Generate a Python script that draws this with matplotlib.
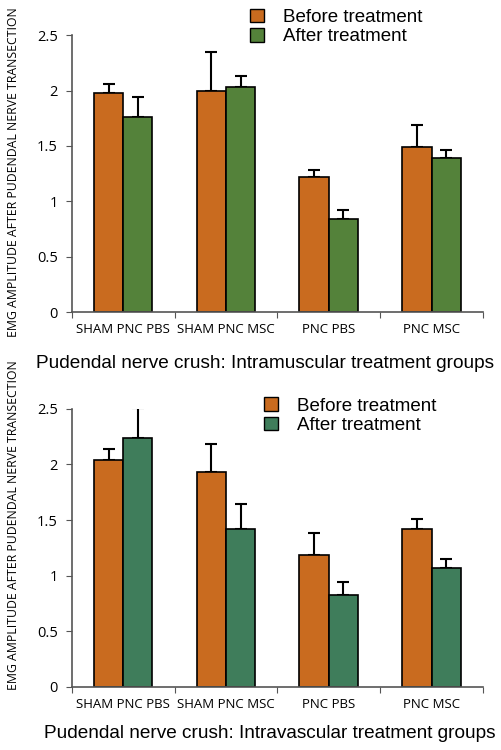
import numpy as np
import matplotlib
matplotlib.use('Agg')
from matplotlib import pyplot as plt

# group names shared by both panels
groups = ["SHAM PNC PBS", "SHAM PNC MSC", "PNC PBS", "PNC MSC"]

# top panel: intramuscular treatment
im_before = [1.98, 2.00, 1.22, 1.49]
im_before_top = [2.06, 2.35, 1.28, 1.69]
im_after = [1.76, 2.03, 0.84, 1.39]
im_after_top = [1.94, 2.13, 0.92, 1.46]

# bottom panel: intravascular treatment
iv_before = [2.04, 1.93, 1.19, 1.42]
iv_before_top = [2.14, 2.18, 1.38, 1.51]
iv_after = [2.24, 1.42, 0.83, 1.07]
iv_after_top = [2.51, 1.64, 0.94, 1.15]

orange = '#c96b1f'
green_top = '#54823a'
green_bot = '#3f7d5b'

fig = plt.figure(figsize=(5.02, 7.5), dpi=100)

tick_font = 'Open Sans'
label_font = 'Liberation Sans'


def draw_panel(ax, before, before_top, after, after_top, green):
    x = np.arange(len(groups))
    w = 0.285
    ax.bar(x - w / 2, before, w, color=orange, edgecolor='black', linewidth=1.2, zorder=2)
    ax.bar(x + w / 2, after, w, color=green, edgecolor='black', linewidth=1.2, zorder=2)
    # only the upper half of each error bar is shown
    ax.errorbar(x - w / 2, before, yerr=[np.zeros(4), np.array(before_top) - np.array(before)],
                fmt='none', ecolor='black', elinewidth=1.5, capsize=4.5, capthick=1.5, zorder=1)
    ax.errorbar(x + w / 2, after, yerr=[np.zeros(4), np.array(after_top) - np.array(after)],
                fmt='none', ecolor='black', elinewidth=1.5, capsize=4.5, capthick=1.5, zorder=1)
    ax.set_xlim(-0.5, 3.5)
    ax.set_ylim(0, 2.5)
    ax.set_yticks([0, 0.5, 1, 1.5, 2, 2.5])
    ax.set_yticklabels(['0', '0.5', '1', '1.5', '2', '2.5'], fontfamily=tick_font, fontsize=10.5)
    ax.set_xticks(np.arange(-0.5, 4, 1))
    ax.set_xticklabels([])
    ax.set_xticks(x, minor=True)
    ax.set_xticklabels(groups, minor=True, fontfamily=tick_font, fontsize=9.5)
    ax.tick_params(axis='x', which='major', length=4, color='#555555')
    ax.tick_params(axis='x', which='minor', length=0, pad=8)
    ax.tick_params(axis='y', length=4, color='#555555', pad=6)
    for s in ['top', 'right']:
        ax.spines[s].set_visible(False)
    for s in ['left', 'bottom']:
        ax.spines[s].set_color('#555555')
        ax.spines[s].set_linewidth(1.2)


def add_legend(ax, green, anchor):
    ax.legend(handles=[plt.Rectangle((0, 0), 1, 1, fc=orange, ec='black'),
                       plt.Rectangle((0, 0), 1, 1, fc=green, ec='black')],
              labels=['Before treatment', 'After treatment'],
              loc='upper left', bbox_to_anchor=anchor, frameon=False,
              prop={'family': label_font, 'size': 13.5}, handlelength=0.75, handleheight=0.75,
              handletextpad=1.0, labelspacing=0.1, borderpad=0)


ax1 = fig.add_axes([0.143, 0.584, 0.819, 0.369])
draw_panel(ax1, im_before, im_before_top, im_after, im_after_top, green_top)
add_legend(ax1, green_top, (0.41, 1.13))

ax2 = fig.add_axes([0.143, 0.084, 0.819, 0.371])
draw_panel(ax2, iv_before, iv_before_top, iv_after, iv_after_top, green_bot)
add_legend(ax2, green_bot, (0.445, 1.075))

ylab = "EMG AMPLITUDE AFTER PUDENDAL NERVE TRANSECTION"
fig.text(0.026, 0.77, ylab, rotation=90, ha='center', va='center', fontfamily=tick_font, fontsize=8.8)
fig.text(0.026, 0.30, ylab, rotation=90, ha='center', va='center', fontfamily=tick_font, fontsize=8.8)

fig.text(0.528, 1 - 363 / 750, "Pudendal nerve crush: Intramuscular treatment groups", ha='center',
         va='center', fontfamily=label_font, fontsize=13.7)
fig.text(0.538, 1 - 733 / 750, "Pudendal nerve crush: Intravascular treatment groups", ha='center',
         va='center', fontfamily=label_font, fontsize=13.7)

plt.savefig('out.png', dpi=100)
